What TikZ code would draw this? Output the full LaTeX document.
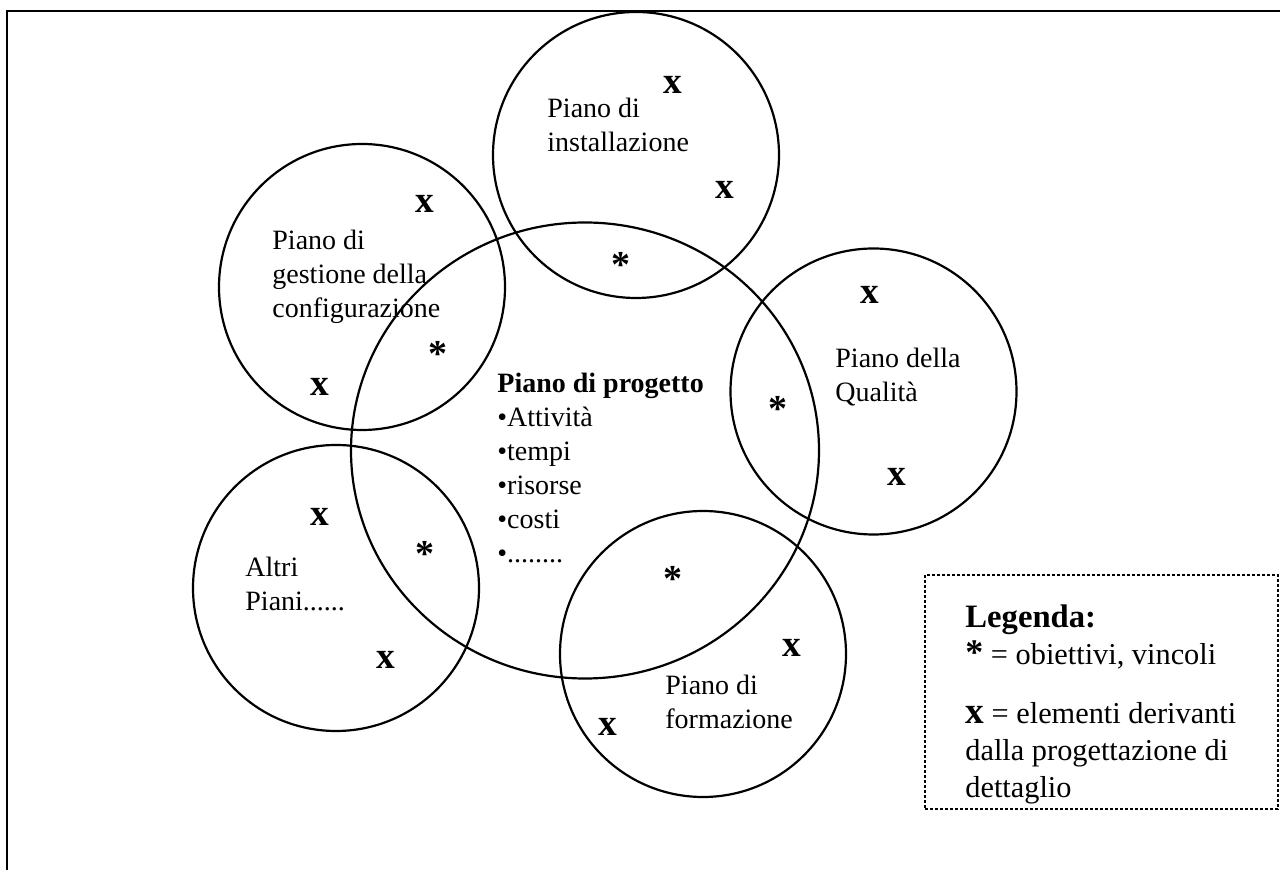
\documentclass[tikz,border=0pt]{standalone}
\usepackage{fontspec}
\setmainfont{Liberation Serif}
\begin{document}
\begin{tikzpicture}[x=0.5pt,y=-0.5pt,
  plan/.style={draw, line width=1.1pt},
  plantext/.style={inner sep=0pt, anchor=base west, font=\fontsize{14}{17}\selectfont},
  xmark/.style={inner sep=0pt, anchor=center, font=\fontsize{18.67}{20}\selectfont\bfseries},
  starmark/.style={inner sep=0pt, anchor=base, font=\fontsize{19}{20}\selectfont\bfseries},
  legendbox/.style={draw, line width=1.3pt, dash pattern=on 1.5pt off 1pt, inner sep=0pt,
    minimum width=176.5pt, minimum height=117pt},
]
\useasboundingbox (0,0) rectangle (1280,870);

% open page frame (top and left sides)
\draw[line width=1pt] (1280,10.7) -- (7.3,10.7) -- (7.3,870);

% the project plan and the plans around it
\draw[plan] (585,450.5) ellipse[x radius=234, y radius=228];
\draw[plan] (636,155) circle[radius=143];
\draw[plan] (362,287) circle[radius=143];
\draw[plan] (873.5,391.5) circle[radius=143];
\draw[plan] (336,588) circle[radius=143];
\draw[plan] (703,654) circle[radius=143];

% plan names
\node[plantext] (progetto) at (497,393) {\begin{tabular}[t]{@{}l@{}}\textbf{Piano di progetto}\\•Attività\\•tempi\\•risorse\\•costi\\•........\end{tabular}};
\node[plantext] (installazione) at (547,118) {\begin{tabular}[t]{@{}l@{}}Piano di\\installazione\end{tabular}};
\node[plantext] (configurazione) at (272,250) {\begin{tabular}[t]{@{}l@{}}Piano di\\gestione della\\configurazione\end{tabular}};
\node[plantext] (qualita) at (835,368) {\begin{tabular}[t]{@{}l@{}}Piano della\\Qualità\end{tabular}};
\node[plantext] (altri) at (245,577) {\begin{tabular}[t]{@{}l@{}}Altri\\Piani......\end{tabular}};
\node[plantext] (formazione) at (665,695) {\begin{tabular}[t]{@{}l@{}}Piano di\\formazione\end{tabular}};

% elements from detailed design
\node[xmark] (x1) at (673,85) {x};
\node[xmark] (x2) at (725,190) {x};
\node[xmark] (x3) at (425,204) {x};
\node[xmark] (x4) at (320,387) {x};
\node[xmark] (x5) at (870,295) {x};
\node[xmark] (x6) at (897,477) {x};
\node[xmark] (x7) at (320,517) {x};
\node[xmark] (x8) at (386,660) {x};
\node[xmark] (x9) at (792,648) {x};
\node[xmark] (x10) at (608,727) {x};

% objectives and constraints in the overlaps
\node[starmark] (s1) at (621,278) {*};
\node[starmark] (s2) at (438,367) {*};
\node[starmark] (s3) at (778,422) {*};
\node[starmark] (s4) at (425,567) {*};
\node[starmark] (s5) at (673,592) {*};

% legend
\node[legendbox] (legenda) at (1101.5,692) {};
\node[inner sep=0pt, anchor=base west, font=\fontsize{15.17}{18.5}\selectfont] (legendtext) at (965,628)
  {\begin{tabular}[t]{@{}l@{}}{\fontsize{16.33}{18.5}\selectfont\bfseries Legenda:}\\
   {\fontsize{18}{18}\selectfont\bfseries *} = obiettivi, vincoli\\[11pt]
   {\fontsize{18.67}{18}\selectfont\bfseries x} = elementi derivanti\\
   dalla progettazione di\\
   dettaglio\end{tabular}};
\end{tikzpicture}
\end{document}
